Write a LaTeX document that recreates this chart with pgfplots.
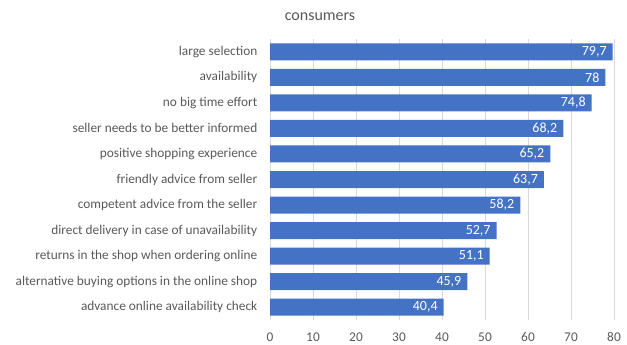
\documentclass[border=0pt]{standalone}
\usepackage{pgfplots}
\pgfplotsset{compat=1.18}
\usepackage{fontspec}
\setmainfont{Carlito}
\definecolor{barblue}{HTML}{4472C4}
\definecolor{txtgray}{HTML}{595959}
\definecolor{gridgray}{HTML}{D9D9D9}
\begin{document}
\begin{tikzpicture}
\useasboundingbox (0,0) rectangle (470.25pt,258pt);
\node[text=txtgray, font=\fontsize{12}{14}\selectfont] at (240pt,245.25pt) {consumers};
\begin{axis}[
  at={(202.5pt,18pt)}, anchor=south west,
  scale only axis, width=258pt, height=210.75pt,
  xbar, bar width=12.75pt,
  xmin=0, xmax=80, ymin=-0.5, ymax=10.5,
  xtick={0,10,...,80},
  ytick={0,...,10},
  yticklabels={advance online availability check, alternative buying options in the online shop, returns in the shop when ordering online, direct delivery in case of unavailability, competent advice from the seller, friendly advice from seller, positive shopping experience, seller needs to be better informed, no big time effort, availability, large selection},
  axis line style={draw=none},
  major tick length=0pt,
  xmajorgrids, grid style={gridgray, line width=0.6pt},
  tick label style={text=txtgray, font=\fontsize{10}{11}\selectfont},
  yticklabel style={xshift=-6pt},
  xticklabel style={yshift=-6pt},
  /pgf/number format/assume math mode=true,
  /pgf/number format/use comma,
  nodes near coords,
  nodes near coords align={anchor=east},
  every node near coord/.append style={text=white, font=\fontsize{10.5}{11}\selectfont, xshift=-1pt},
  clip=false,
]
\addplot[fill=barblue, draw=none] coordinates {
(40.4,0) (45.9,1) (51.1,2) (52.7,3) (58.2,4) (63.7,5) (65.2,6) (68.2,7) (74.8,8) (78,9) (79.7,10)
};
\end{axis}
\end{tikzpicture}
\end{document}
